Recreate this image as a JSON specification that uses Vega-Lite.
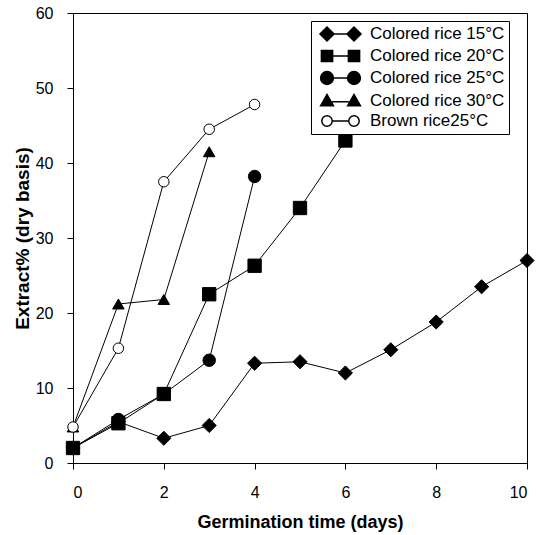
{
  "$schema": "https://vega.github.io/schema/vega-lite/v6.json",
  "autosize": "none",
  "width": 454,
  "height": 450,
  "padding": {"left": 73, "top": 13, "right": 13, "bottom": 72},
  "background": "white",
  "config": {
    "view": {"stroke": "black", "strokeWidth": 1},
    "font": "Liberation Sans",
    "axis": {
      "grid": false,
      "domainColor": "black",
      "tickColor": "black",
      "tickSize": 6,
      "labelFont": "Liberation Sans",
      "labelFontSize": 16,
      "labelColor": "black",
      "titleFont": "Liberation Sans",
      "titleFontWeight": "bold",
      "titleColor": "black"
    }
  },
  "data": {
    "values": [
      {"series": "Colored rice 15°C", "day": 0, "extract": 2.0},
      {"series": "Colored rice 15°C", "day": 1, "extract": 5.5},
      {"series": "Colored rice 15°C", "day": 2, "extract": 3.3},
      {"series": "Colored rice 15°C", "day": 3, "extract": 5.0},
      {"series": "Colored rice 15°C", "day": 4, "extract": 13.3},
      {"series": "Colored rice 15°C", "day": 5, "extract": 13.5},
      {"series": "Colored rice 15°C", "day": 6, "extract": 12.0},
      {"series": "Colored rice 15°C", "day": 7, "extract": 15.1},
      {"series": "Colored rice 15°C", "day": 8, "extract": 18.8},
      {"series": "Colored rice 15°C", "day": 9, "extract": 23.5},
      {"series": "Colored rice 15°C", "day": 10, "extract": 27.0},
      {"series": "Colored rice 20°C", "day": 0, "extract": 2.0},
      {"series": "Colored rice 20°C", "day": 1, "extract": 5.3},
      {"series": "Colored rice 20°C", "day": 2, "extract": 9.2},
      {"series": "Colored rice 20°C", "day": 3, "extract": 22.5},
      {"series": "Colored rice 20°C", "day": 4, "extract": 26.3},
      {"series": "Colored rice 20°C", "day": 5, "extract": 34.0},
      {"series": "Colored rice 20°C", "day": 6, "extract": 43.0},
      {"series": "Colored rice 25°C", "day": 0, "extract": 2.0},
      {"series": "Colored rice 25°C", "day": 1, "extract": 5.8},
      {"series": "Colored rice 25°C", "day": 2, "extract": 9.2},
      {"series": "Colored rice 25°C", "day": 3, "extract": 13.7},
      {"series": "Colored rice 25°C", "day": 4, "extract": 38.2},
      {"series": "Colored rice 30°C", "day": 0, "extract": 4.8},
      {"series": "Colored rice 30°C", "day": 1, "extract": 21.2},
      {"series": "Colored rice 30°C", "day": 2, "extract": 21.8},
      {"series": "Colored rice 30°C", "day": 3, "extract": 41.5},
      {"series": "Brown rice25°C", "day": 0, "extract": 4.8},
      {"series": "Brown rice25°C", "day": 1, "extract": 15.3},
      {"series": "Brown rice25°C", "day": 2, "extract": 37.5},
      {"series": "Brown rice25°C", "day": 3, "extract": 44.5},
      {"series": "Brown rice25°C", "day": 4, "extract": 47.8}
    ]
  },
  "encoding": {
    "x": {
      "field": "day", "type": "quantitative",
      "scale": {"domain": [0, 10], "nice": false},
      "axis": {"values": [0, 2, 4, 6, 8, 10], "labelPadding": 15, "title": "Germination time (days)", "titleFontSize": 18, "titlePadding": 13}
    },
    "y": {
      "field": "extract", "type": "quantitative",
      "scale": {"domain": [0, 60], "nice": false},
      "axis": {"values": [0, 10, 20, 30, 40, 50, 60], "labelPadding": 14, "title": "Extract% (dry basis)", "titleFontSize": 19, "titlePadding": 3}
    }
  },
  "layer": [
    {
      "mark": {"type": "line", "color": "black", "strokeWidth": 1},
      "encoding": {"detail": {"field": "series"}, "order": {"field": "day"}}
    },
    {
      "mark": {"type": "point", "filled": true, "stroke": "black", "strokeWidth": 1, "opacity": 1},
      "encoding": {
        "shape": {
          "field": "series", "type": "nominal",
          "scale": {"domain": ["Colored rice 15°C", "Colored rice 20°C", "Colored rice 25°C", "Colored rice 30°C", "Brown rice25°C"], "range": ["diamond", "square", "circle", "triangle-up", "circle"]},
          "legend": null
        },
        "fill": {
          "field": "series", "type": "nominal",
          "scale": {"domain": ["Colored rice 15°C", "Colored rice 20°C", "Colored rice 25°C", "Colored rice 30°C", "Brown rice25°C"], "range": ["black", "black", "black", "black", "white"]},
          "legend": null
        },
        "size": {
          "field": "series", "type": "nominal",
          "scale": {"domain": ["Colored rice 15°C", "Colored rice 20°C", "Colored rice 25°C", "Colored rice 30°C", "Brown rice25°C"], "range": [200, 110, 130, 150, 135]},
          "legend": null
        }
      }
    },
    {
      "mark": {"type": "point", "filled": true, "stroke": "black", "strokeWidth": 1, "opacity": 0, "size": 256},
      "encoding": {
        "shape": {
          "field": "series", "type": "nominal",
          "scale": {"domain": ["Colored rice 15°C", "Colored rice 20°C", "Colored rice 25°C", "Colored rice 30°C", "Brown rice25°C"], "range": [
            "M-0.5,0L0.375,-0.875L1.25,0L0.375,0.875Z M1.25,0L2.875,0 M2.875,0L3.75,-0.875L4.625,0L3.75,0.875Z",
            "M-0.325,-0.7L1.075,-0.7L1.075,0.7L-0.325,0.7Z M1.075,0L3.05,0 M3.05,-0.7L4.45,-0.7L4.45,0.7L3.05,0.7Z",
            "M-0.425,0C-0.425,-0.4418 -0.0668,-0.8 0.375,-0.8C0.8168,-0.8 1.175,-0.4418 1.175,0C1.175,0.4418 0.8168,0.8 0.375,0.8C-0.0668,0.8 -0.425,0.4418 -0.425,0Z M1.175,0L2.95,0 M2.95,0C2.95,-0.4418 3.3082,-0.8 3.75,-0.8C4.1918,-0.8 4.55,-0.4418 4.55,0C4.55,0.4418 4.1918,0.8 3.75,0.8C3.3082,0.8 2.95,0.4418 2.95,0Z",
            "M-0.425,0.6L0.375,-0.8L1.175,0.6Z M1.0,0.1L3.1,0.1 M2.95,0.6L3.75,-0.8L4.55,0.6Z",
            "M-0.275,0C-0.275,-0.359 0.016,-0.65 0.375,-0.65C0.734,-0.65 1.025,-0.359 1.025,0C1.025,0.359 0.734,0.65 0.375,0.65C0.016,0.65 -0.275,0.359 -0.275,0Z M1.025,0L3.1,0 M3.1,0C3.1,-0.359 3.391,-0.65 3.75,-0.65C4.109,-0.65 4.4,-0.359 4.4,0C4.4,0.359 4.109,0.65 3.75,0.65C3.391,0.65 3.1,0.359 3.1,0Z"
          ]},
          "legend": {
            "title": null,
            "orient": "none",
            "legendX": 238,
            "legendY": 8,
            "padding": 4,
            "strokeColor": "black",
            "fillColor": "white",
            "rowPadding": 3,
            "labelOffset": 37,
            "symbolSize": 256,
            "symbolOpacity": 1,
            "labelFont": "Liberation Sans",
            "labelFontSize": 17,
            "labelColor": "black",
            "labelLimit": 300,
            "encode": {
              "symbols": {
                "update": {
                  "stroke": {"value": "black"},
                  "strokeWidth": {"value": 1},
                  "strokeOpacity": {"value": 1},
                  "opacity": {"value": 1}
                }
              }
            }
          }
        },
        "fill": {
          "field": "series", "type": "nominal",
          "scale": {"domain": ["Colored rice 15°C", "Colored rice 20°C", "Colored rice 25°C", "Colored rice 30°C", "Brown rice25°C"], "range": ["black", "black", "black", "black", "white"]},
          "legend": {
            "title": null,
            "orient": "none",
            "legendX": 238,
            "legendY": 8,
            "padding": 4,
            "strokeColor": "black",
            "fillColor": "white",
            "rowPadding": 3,
            "labelOffset": 37,
            "symbolSize": 256,
            "symbolOpacity": 1,
            "labelFont": "Liberation Sans",
            "labelFontSize": 17,
            "labelColor": "black",
            "labelLimit": 300,
            "encode": {
              "symbols": {
                "update": {
                  "stroke": {"value": "black"},
                  "strokeWidth": {"value": 1},
                  "strokeOpacity": {"value": 1},
                  "opacity": {"value": 1}
                }
              }
            }
          }
        }
      }
    }
  ],
  "resolve": {
    "scale": {"shape": "independent", "fill": "independent", "size": "independent"},
    "legend": {"shape": "independent", "fill": "independent"}
  }
}
